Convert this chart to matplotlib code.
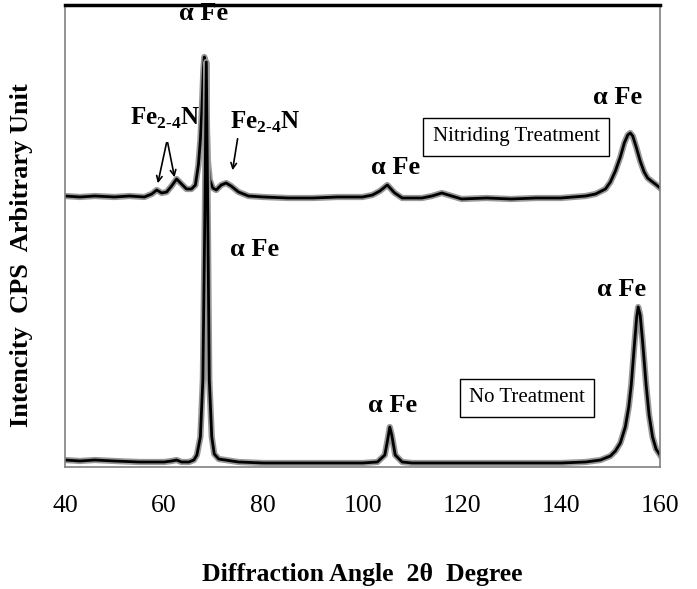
import matplotlib
matplotlib.use("Agg")
import matplotlib.pyplot as plt
import matplotlib.patheffects as pe

plt.rcParams['font.family'] = ['Liberation Serif', 'DejaVu Serif']
plt.rcParams['mathtext.fontset'] = 'custom'
plt.rcParams['mathtext.rm'] = 'Liberation Serif:bold'
plt.rcParams['mathtext.bf'] = 'Liberation Serif:bold'

# nitriding treatment (upper trace)
nit_angle = [40, 43, 46, 50, 53, 56, 57.5, 58.5, 59.5, 60.5, 61.5, 62.5, 63.5, 64.5, 65.5,
             66.3, 66.9, 67.3, 67.6, 67.9, 68.1, 68.3, 68.5, 68.8, 69.2, 69.8, 70.5, 71.5,
             72.5, 73.5, 75, 77, 80, 85, 90, 95, 100, 102, 103.5, 105, 106.5, 108, 112,
             114, 116, 118, 120, 125, 130, 135, 140, 145, 147, 149, 150, 151, 152, 152.8,
             153.5, 154, 154.5, 155.2, 156, 156.8, 157.5, 158.5, 159.3, 160]
nit_int = [271, 270, 271, 270, 271, 270, 273, 277, 274, 275, 281, 288, 283, 278, 278,
           282, 302, 327, 357, 397, 410, 405, 357, 307, 287, 279, 277, 282,
           284, 281, 275, 271, 270, 269, 269, 270, 270, 272, 276, 282, 274, 269, 269,
           271, 274, 271, 268, 269, 268, 269, 269, 271, 273, 278, 285, 296, 310, 324,
           332, 334, 331, 320, 306, 295, 289, 285, 282, 279]

# no treatment (lower trace)
raw_angle = [40, 43, 46, 50, 55, 60, 61.5, 62.5, 63.5, 65, 66.0, 66.6, 67.3, 67.8, 68.2,
             68.5, 68.8, 69.1, 69.6, 70.1, 71, 75, 80, 90, 100, 103, 104.5, 105.1, 105.5,
             105.9, 106.6, 108, 110, 120, 130, 140, 145, 148, 150, 151, 152, 153, 153.7,
             154.2, 154.8, 155.3, 155.6, 156.0, 156.5, 157.2, 157.8, 158.5, 159.2, 160]
raw_int = [7, 6, 7, 6, 5, 5, 6, 7, 5, 5, 7, 12, 30, 87, 250,
           405, 250, 87, 30, 13, 8, 5, 4, 4, 4, 5, 12, 28, 40,
           32, 12, 5, 4, 4, 4, 4, 5, 7, 11, 16, 24, 40, 60,
           82, 120, 150, 160, 152, 125, 82, 52, 30, 18, 12]

x_ticks = [40, 60, 80, 100, 120, 140, 160]

fig = plt.figure(figsize=(6.97, 5.89), dpi=100)
ax = fig.add_axes([65 / 697, 1 - 467 / 589, 595 / 697, 462 / 589])

halo = [pe.Stroke(linewidth=4.5, foreground='0.6'), pe.Normal()]
ax.plot(nit_angle, nit_int, color='black', lw=2, path_effects=halo)
ax.plot(raw_angle, raw_int, color='black', lw=2, path_effects=halo)

ax.set_xlim(40, 160)
ax.set_ylim(0, 462)
ax.set_xticks(x_ticks)
ax.set_yticks([])
ax.tick_params(axis='x', length=0, pad=20, labelsize=18.5)

for side in ['left', 'right', 'bottom']:
    ax.spines[side].set_color('0.5')
    ax.spines[side].set_linewidth(1.2)
ax.spines['top'].set_color('black')
ax.spines['top'].set_linewidth(2.5)

fig.text(362 / 697, 1 - 575 / 589, 'Diffraction Angle  2θ  Degree', ha='center', va='center',
         fontsize=18.5, fontweight='bold')
fig.text(22 / 697, 1 - 255 / 589, 'Intencity  CPS  Arbitrary Unit', ha='center', va='center',
         rotation=90, fontsize=19, fontweight='bold')

lab = dict(ha='center', va='center', fontsize=19, fontweight='bold')
ax.text(68.0, 453, 'α Fe', **lab)
ax.text(106.6, 300, 'α Fe', **lab)
ax.text(151.5, 369, 'α Fe', **lab)
ax.text(78.3, 217, 'α Fe', **lab)
ax.text(106.0, 62, 'α Fe', **lab)
ax.text(152.3, 177, 'α Fe', **lab)

fe_n = r'Fe$_{\mathbf{2\text{-}4}}$N'
ax.text(60.2, 349, fe_n, ha='center', va='center', fontsize=18, fontweight='bold')
ax.text(80.3, 345, fe_n, ha='center', va='center', fontsize=18, fontweight='bold')
arrow = dict(arrowstyle='->', color='black', lw=1.2)
ax.annotate('', xy=(58.6, 281), xytext=(60.6, 327), arrowprops=arrow)
ax.annotate('', xy=(62.2, 287), xytext=(60.6, 327), arrowprops=arrow)
ax.annotate('', xy=(73.7, 294), xytext=(74.9, 331), arrowprops=arrow)

box = dict(boxstyle='square,pad=0.45', facecolor='white', edgecolor='black', lw=1)
ax.text(131.0, 330, 'Nitriding Treatment', ha='center', va='center', fontsize=15, bbox=box)
ax.text(133.2, 69, 'No Treatment', ha='center', va='center', fontsize=15, bbox=box)

fig.savefig('out.png', dpi=100)
